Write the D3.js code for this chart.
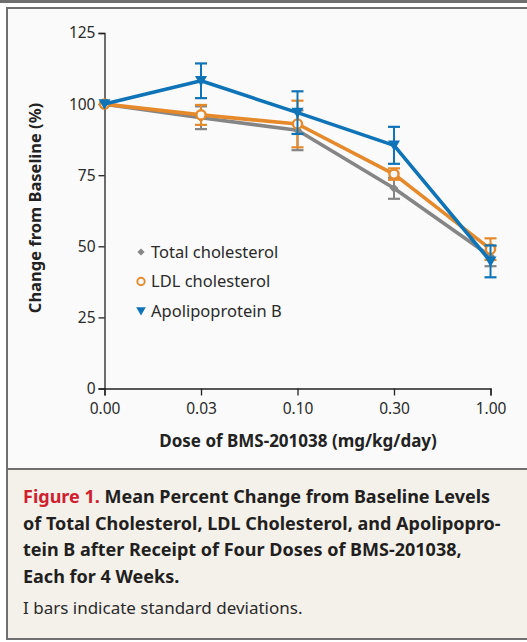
<!DOCTYPE html>
<html>
<head>
<meta charset="utf-8">
<script src="https://cdn.jsdelivr.net/npm/d3@7"></script>
<style>
  body { margin: 0; background: #fff; }
  text { font-family: "Noto Sans", "Open Sans", sans-serif; }
</style>
</head>
<body>
<div id="chart"></div>
<script>
// values
var doses = ["0.00", "0.03", "0.10", "0.30", "1.00"];
var totalMean = [100, 95.2, 90.8, 70.4, 46.5];
var totalSD = [0, 4, 7, 3.7, 3.5];
var ldlMean = [100, 96.2, 93.0, 75.4, 49.0];
var ldlSD = [0, 3.5, 8.2, 2, 3.8];
var apoMean = [100, 108.2, 97.0, 85.5, 44.7];
var apoSD = [0, 6.1, 7.5, 6.5, 5.6];
var yTicks = [0, 25, 50, 75, 100, 125];

var svgWidth = 527;
var svgHeight = 642;

var svg = d3.select("#chart")
  .append("svg")
  .attr("width", svgWidth)
  .attr("height", svgHeight);

// frame
svg.append("rect").attr("x", 0).attr("y", 0).attr("width", svgWidth).attr("height", 3).attr("fill", "#6f6f6f");
svg.append("rect").attr("x", 7).attr("y", 8).attr("width", 530).attr("height", 461)
  .attr("fill", "#fafafa").attr("stroke", "#6f6f6f").attr("stroke-width", 2);
svg.append("rect").attr("x", 7).attr("y", 469).attr("width", 530).attr("height", 170)
  .attr("fill", "#f4f1eb").attr("stroke", "#6f6f6f").attr("stroke-width", 2);

var x = d3.scalePoint().domain(doses).range([104.5, 490.5]);
var y = d3.scaleLinear().domain([0, 125]).range([388.5, 33]);

var yAxis = svg.append("g")
  .attr("transform", "translate(104.5,0)")
  .call(d3.axisLeft(y).tickValues(yTicks).tickSize(6).tickPadding(3));
var xAxis = svg.append("g")
  .attr("transform", "translate(0,388.5)")
  .call(d3.axisBottom(x).tickSize(7).tickPadding(7));

[xAxis, yAxis].forEach(function(a) {
  a.selectAll("path, line").attr("stroke", "#222").attr("stroke-width", 1.3);
  a.selectAll("text")
    .style("font-size", "15.5px")
    .style("font-family", "'Noto Sans', sans-serif")
    .attr("fill", "#2a2a2a");
});

svg.append("text")
  .attr("transform", "translate(41,208) rotate(-90)")
  .attr("text-anchor", "middle")
  .style("font-size", "16.5px")
  .attr("font-weight", "bold")
  .attr("fill", "#222")
  .text("Change from Baseline (%)");

svg.append("text")
  .attr("x", 298)
  .attr("y", 447)
  .attr("text-anchor", "middle")
  .style("font-size", "17px")
  .attr("font-weight", "bold")
  .attr("fill", "#222")
  .text("Dose of BMS-201038 (mg/kg/day)");

var series = [
  { name: "Total cholesterol", mean: totalMean, sd: totalSD, color: "#858585", marker: "diamond" },
  { name: "LDL cholesterol", mean: ldlMean, sd: ldlSD, color: "#e5892a", marker: "circle" },
  { name: "Apolipoprotein B", mean: apoMean, sd: apoSD, color: "#0f74b7", marker: "triangle" }
];

function drawMarker(g, type, color, cx, cy, scale) {
  scale = scale || 1;
  if (type === "diamond") {
    var s = 4.5 * scale;
    g.append("path")
      .attr("d", `M${cx},${cy - s}L${cx + s},${cy}L${cx},${cy + s}L${cx - s},${cy}Z`)
      .attr("fill", color);
  } else if (type === "circle") {
    g.append("circle")
      .attr("cx", cx).attr("cy", cy).attr("r", 4.6 * scale)
      .attr("fill", "#fafafa").attr("stroke", color).attr("stroke-width", 2.4 * scale);
  } else {
    var w = 6 * scale;
    g.append("path")
      .attr("d", `M${cx - w},${cy - w * 0.8}L${cx + w},${cy - w * 0.8}L${cx},${cy + w * 0.95}Z`)
      .attr("fill", color);
  }
}

var line = d3.line()
  .x((d, i) => x(doses[i]))
  .y(d => y(d));

series.forEach(function(s) {
  var g = svg.append("g");
  // I bars
  s.mean.forEach(function(m, i) {
    if (!s.sd[i]) return;
    var cx = x(doses[i]);
    var top = y(m + s.sd[i]), bot = y(m - s.sd[i]);
    g.append("line").attr("x1", cx).attr("x2", cx).attr("y1", top).attr("y2", bot)
      .attr("stroke", s.color).attr("stroke-width", 2);
    [top, bot].forEach(function(yy) {
      g.append("line").attr("x1", cx - 6).attr("x2", cx + 6).attr("y1", yy).attr("y2", yy)
        .attr("stroke", s.color).attr("stroke-width", 2.2);
    });
  });
  g.append("path")
    .datum(s.mean)
    .attr("d", line)
    .attr("fill", "none")
    .attr("stroke", s.color)
    .attr("stroke-width", 3.6)
    .attr("stroke-linejoin", "round");
  s.mean.forEach(function(m, i) {
    drawMarker(g, s.marker, s.color, x(doses[i]), y(m));
  });
});

// legend
var legend = svg.append("g");
series.forEach(function(s, i) {
  var ly = 252 + i * 29.5;
  drawMarker(legend, s.marker, s.color, 141, ly, 0.8);
  legend.append("text")
    .attr("x", 151)
    .attr("y", ly + 5.5)
    .style("font-size", "16.5px")
    .attr("fill", "#2a2a2a")
    .text(s.name);
});

// caption
var caption = svg.append("text")
  .style("font-size", "18px")
  .attr("font-weight", "bold")
  .attr("fill", "#231f20");
var capLines = [
  ["Figure 1.", " Mean Percent Change from Baseline Levels"],
  ["", "of Total Cholesterol, LDL Cholesterol, and Apolipopro-"],
  ["", "tein B after Receipt of Four Doses of BMS-201038,"],
  ["", "Each for 4 Weeks."]
];
capLines.forEach(function(l, i) {
  var t = caption.append("tspan").attr("x", 23).attr("y", 503 + i * 26.5);
  if (l[0]) {
    t.text(l[0]).attr("fill", "#d0202e");
    caption.append("tspan").text(l[1]);
  } else {
    t.text(l[1]);
  }
});
svg.append("text")
  .attr("x", 23)
  .attr("y", 614)
  .style("font-size", "17px")
  .attr("fill", "#2a2a2a")
  .text("I bars indicate standard deviations.");
</script>
</body>
</html>
